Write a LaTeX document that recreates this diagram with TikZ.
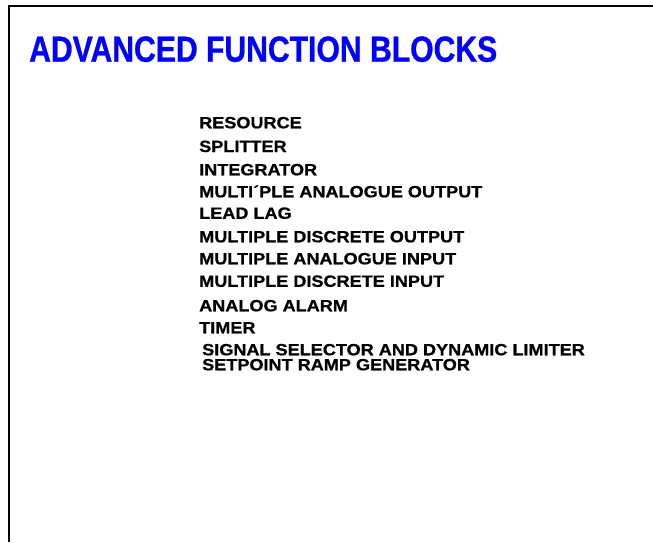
\documentclass[tikz,border=0pt]{standalone}
\usepackage{fontspec}
\setmainfont{Liberation Sans}
\newfontfamily\headfont[FakeStretch=0.83,FakeBold=0.8]{Liberation Sans}
\newfontfamily\itemfont[FakeStretch=1.11,FakeBold=0.8]{Liberation Sans}
\usepackage{xcolor}
\usepackage{tikz}
\usetikzlibrary{positioning}

\begin{document}
\begin{tikzpicture}[
    x=1pt, y=-1pt,
    title/.style={anchor=base west, inner sep=0pt, text=blue, font=\headfont\fontsize{36.3}{40}\selectfont\bfseries},
    item/.style={anchor=base west, inner sep=0pt, font=\itemfont\fontsize{16.3}{18}\selectfont\bfseries},
    frame/.style={draw=black, line width=2pt},
]
    \useasboundingbox (0,0) rectangle (653,542);
    \draw[frame] (8.5,542) -- (8.5,5.5) -- (653,5.5);
    \node[title] (head) at (29,61.7) {ADVANCED FUNCTION BLOCKS};
    % list of blocks
    \node[item] (resource) at (199,128.3) {RESOURCE};
    \node[item] (splitter) at (199,152) {SPLITTER};
    \node[item] (integrator) at (199,175.3) {INTEGRATOR};
    \node[item] (mao) at (199,197.3) {MULTI´PLE ANALOGUE OUTPUT};
    \node[item] (leadlag) at (199,218.8) {LEAD LAG};
    \node[item] (mdo) at (199,242.3) {MULTIPLE DISCRETE OUTPUT};
    \node[item] (mai) at (199,264.3) {MULTIPLE ANALOGUE INPUT};
    \node[item] (mdi) at (199,286.8) {MULTIPLE DISCRETE INPUT};
    \node[item] (alarm) at (199,311.3) {ANALOG ALARM};
    \node[item] (timer) at (199,333.3) {TIMER};
    \node[item] (selector) at (202,355.3) {SIGNAL SELECTOR AND DYNAMIC LIMITER};
    \node[item] (ramp) at (202,370.3) {SETPOINT RAMP GENERATOR};
\end{tikzpicture}
\end{document}
